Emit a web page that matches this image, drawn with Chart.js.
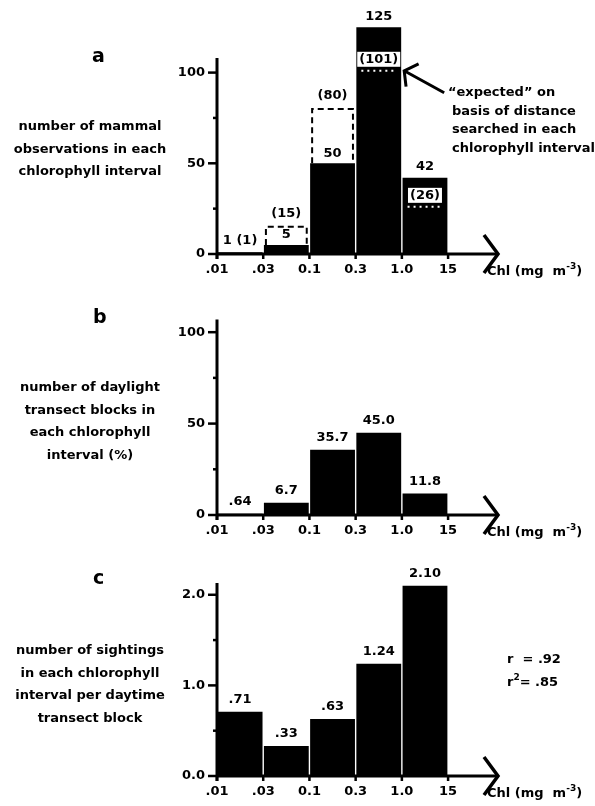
<!DOCTYPE html>
<html>
<head>
<meta charset="utf-8">
<script src="https://cdn.jsdelivr.net/npm/chart.js@4.4.1/dist/chart.umd.min.js"></script>
<style>
body { margin: 0; background: #fff; width: 595px; height: 806px; position: relative; overflow: hidden;
  font-family: 'DejaVu Sans', sans-serif; font-weight: bold; font-size: 13px; color: #000; }
.panel { position: absolute; left: 0; width: 595px; height: 284px; }
.panel canvas { position: absolute; left: 0; top: 0; }
.txt { position: absolute; white-space: nowrap; }
.letter { font-size: 19px; line-height: 22px; }
.side { left: 0; width: 180px; text-align: center; line-height: 22.5px; }
.chl { left: 487px; top: 263px; line-height: 16px; }
.chl sup { font-size: 9px; vertical-align: 6px; line-height: 0; }
.note { left: 452px; top: 83px; line-height: 18.5px; }
.rval { left: 507px; top: 125px; line-height: 23px; }
</style>
</head>
<body>

<div class="panel" style="top:0">
  <canvas id="chartA" width="595" height="284"></canvas>
  <div class="txt letter" style="left:92px;top:44px">a</div>
  <div class="txt side" style="top:115px">number of mammal<br>observations in each<br>chlorophyll interval</div>
  <div class="txt note"><span style="margin-left:-4px">“expected” on</span><br>basis of distance<br>searched in each<br>chlorophyll interval</div>
  <div class="txt chl">Chl (mg&nbsp; m<sup>-3</sup>)</div>
</div>

<div class="panel" style="top:261px">
  <canvas id="chartB" width="595" height="284"></canvas>
  <div class="txt letter" style="left:93px;top:44px">b</div>
  <div class="txt side" style="top:115px">number of daylight<br>transect blocks in<br>each chlorophyll<br>interval (%)</div>
  <div class="txt chl">Chl (mg&nbsp; m<sup>-3</sup>)</div>
</div>

<div class="panel" style="top:522px">
  <canvas id="chartC" width="595" height="284"></canvas>
  <div class="txt letter" style="left:93px;top:44px">c</div>
  <div class="txt side" style="top:117px">number of sightings<br>in each chlorophyll<br>interval per daytime<br>transect block</div>
  <div class="txt rval">r&nbsp; = .92<br>r<sup style="font-size:9px;vertical-align:6px;line-height:0">2</sup>= .85</div>
  <div class="txt chl">Chl (mg&nbsp; m<sup>-3</sup>)</div>
</div>

<script>
// chlorophyll interval boundaries (mg m-3)
const boundaries = ['.01', '.03', '0.1', '0.3', '1.0', '15'];

// a: mammal observations, observed and "expected"
const observedA = [1, 5, 50, 125, 42];
const expectedA = [1, 15, 80, 101, 26];
const yTicksA = [0, 25, 50, 75, 100];
const yLabelsA = ['0', '', '50', '', '100'];

// b: daylight transect blocks (%)
const valuesB = [0.64, 6.7, 35.7, 45.0, 11.8];
const labelsB = ['.64', '6.7', '35.7', '45.0', '11.8'];
const yTicksB = [0, 25, 50, 75, 100];
const yLabelsB = ['0', '', '50', '', '100'];

// c: sightings per daytime transect block
const valuesC = [0.71, 0.33, 0.63, 1.24, 2.10];
const labelsC = ['.71', '.33', '.63', '1.24', '2.10'];
const yTicksC = [0, 0.5, 1, 1.5, 2];
const yLabelsC = ['0.0', '', '1.0', '', '2.0'];

const FONT = 'bold 13px "DejaVu Sans", sans-serif';
const tickFont = { family: '"DejaVu Sans", sans-serif', weight: 'bold', size: 13 };
const BASE = 254; // baseline of each panel inside its canvas

function text(ctx, str, x, y) {
    ctx.font = FONT;
    ctx.textAlign = 'center';
    ctx.textBaseline = 'middle';
    ctx.fillStyle = '#000';
    ctx.fillText(str, x, y);
}

const decor = {
    id: 'decor',
    afterDatasetsDraw(chart, args, opts) {
        const { ctx, chartArea: area, scales: { x, y } } = chart;
        const bars = chart.getDatasetMeta(0).data;
        ctx.save();
        ctx.strokeStyle = '#000';

        if (opts.expected) {
            const obs = opts.observed;
            const exp = opts.expected;
            const top = exp.indexOf(Math.max(...exp));
            bars.forEach((bar, i) => {
                const left = bar.x - bar.width / 2;
                const right = bar.x + bar.width / 2;
                const ey = y.getPixelForValue(exp[i]);
                if (exp[i] === obs[i]) {
                    text(ctx, `${obs[i]} (${exp[i]})`, bar.x, bar.y - 12);
                } else if (exp[i] > obs[i]) {
                    ctx.lineWidth = 2;
                    ctx.setLineDash([6, 4]);
                    ctx.beginPath();
                    ctx.moveTo(left + 2, bar.y);
                    ctx.lineTo(left + 2, ey);
                    ctx.lineTo(right - 2, ey);
                    ctx.lineTo(right - 2, bar.y);
                    ctx.stroke();
                    ctx.setLineDash([]);
                    text(ctx, String(obs[i]), bar.x, bar.y - 10);
                    text(ctx, `(${exp[i]})`, bar.x, ey - 13);
                } else {
                    ctx.strokeStyle = '#fff';
                    ctx.lineWidth = 2;
                    ctx.setLineDash([2, 4]);
                    ctx.beginPath();
                    ctx.moveTo(left + 5, ey);
                    ctx.lineTo(right - 4, ey);
                    ctx.stroke();
                    ctx.setLineDash([]);
                    ctx.strokeStyle = '#000';
                    ctx.font = FONT;
                    const label = `(${exp[i]})`;
                    const w = ctx.measureText(label).width + 4;
                    ctx.fillStyle = '#fff';
                    ctx.fillRect(bar.x - w / 2, ey - 19, w, 15);
                    text(ctx, label, bar.x, ey - 11.5);
                    text(ctx, String(obs[i]), bar.x, bar.y - 11);
                }
                if (i === top) {
                    // pointer to the "expected" level
                    const tx = right + 3;
                    const ang = Math.atan2(22, 40);
                    ctx.lineWidth = 3;
                    ctx.beginPath();
                    ctx.moveTo(tx + 40, ey + 22);
                    ctx.lineTo(tx, ey);
                    ctx.moveTo(tx + 16 * Math.cos(ang - 0.95), ey + 16 * Math.sin(ang - 0.95));
                    ctx.lineTo(tx, ey);
                    ctx.lineTo(tx + 16 * Math.cos(ang + 0.95), ey + 16 * Math.sin(ang + 0.95));
                    ctx.stroke();
                }
            });
        } else {
            bars.forEach((bar, i) => text(ctx, opts.labels[i], bar.x, bar.y - 12));
        }

        // axes: vertical line stops at opts.axisTop, x axis ends in an open arrow
        const yTop = y.getPixelForValue(opts.axisTop);
        ctx.strokeStyle = '#000';
        ctx.lineWidth = 3;
        ctx.beginPath();
        ctx.moveTo(area.left, yTop);
        ctx.lineTo(area.left, area.bottom + 5);
        ctx.moveTo(area.left - 1.5, area.bottom);
        ctx.lineTo(area.right - 2, area.bottom);
        ctx.stroke();
        ctx.lineWidth = 3.5;
        ctx.beginPath();
        ctx.moveTo(area.right - 14, area.bottom - 19);
        ctx.lineTo(area.right, area.bottom);
        ctx.lineTo(area.right - 14, area.bottom + 19);
        ctx.stroke();

        ctx.lineWidth = 2.5;
        y.ticks.forEach(t => {
            const py = y.getPixelForValue(t.value);
            const len = t.label ? 9 : 4;
            ctx.beginPath();
            ctx.moveTo(area.left - len, py);
            ctx.lineTo(area.left, py);
            ctx.stroke();
        });
        x.ticks.forEach(t => {
            const px = x.getPixelForValue(t.value);
            ctx.beginPath();
            ctx.moveTo(px, area.bottom);
            ctx.lineTo(px, area.bottom + 5);
            ctx.stroke();
        });
        ctx.restore();
    }
};

function makeChart(id, values, yMax, yTicks, yLabels, top, decorOpts) {
    const canvas = document.getElementById(id);
    const height = canvas.height;
    return new Chart(canvas.getContext('2d'), {
        type: 'bar',
        data: {
            datasets: [{
                data: values.map((v, i) => ({ x: i + 0.5, y: v })),
                backgroundColor: '#000',
                borderWidth: 0,
                barPercentage: 1,
                categoryPercentage: 0.97
            }]
        },
        options: {
            responsive: false,
            animation: false,
            devicePixelRatio: 1,
            layout: { padding: { top: top, right: 97, bottom: 0, left: 0 } },
            plugins: { legend: { display: false }, tooltip: { enabled: false }, decor: decorOpts },
            scales: {
                x: {
                    type: 'linear', min: 0, max: 6.08, offset: false, bounds: 'data',
                    grid: { display: false, drawTicks: false },
                    border: { display: false },
                    afterBuildTicks: s => { s.ticks = boundaries.map((b, i) => ({ value: i })); },
                    afterFit: s => { s.height = height - BASE; },
                    ticks: {
                        callback: v => boundaries[v],
                        autoSkip: false, maxRotation: 0, padding: 8,
                        color: '#000', font: tickFont
                    }
                },
                y: {
                    min: 0, max: yMax, bounds: 'data',
                    grid: { display: false, drawTicks: false },
                    border: { display: false },
                    afterBuildTicks: s => { s.ticks = yTicks.map(v => ({ value: v })); },
                    afterFit: s => { s.width = 217; s.paddingTop = 0; s.paddingBottom = 0; },
                    ticks: {
                        callback: v => yLabels[yTicks.indexOf(v)],
                        padding: 12, color: '#000', font: tickFont
                    }
                }
            }
        },
        plugins: [decor]
    });
}

makeChart('chartA', observedA, 129, yTicksA, yLabelsA, 20, { observed: observedA, expected: expectedA, axisTop: 108 });
makeChart('chartB', valuesB, 128, yTicksB, yLabelsB, 20, { labels: labelsB, axisTop: 107 });
makeChart('chartC', valuesC, 2.13, yTicksC, yLabelsC, 61, { labels: labelsC, axisTop: 2.13 });
</script>
</body>
</html>
